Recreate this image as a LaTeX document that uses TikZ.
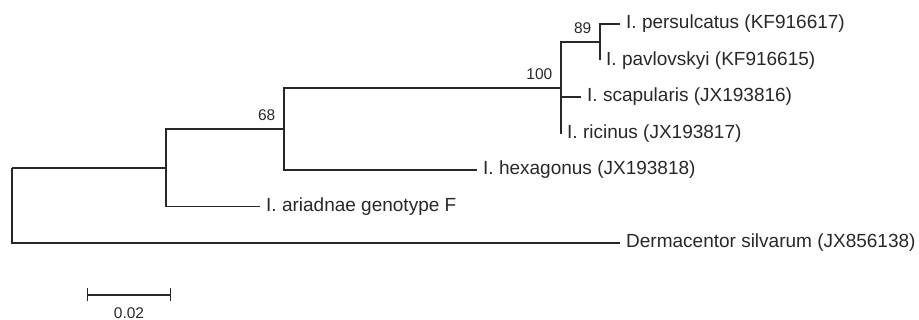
\documentclass[tikz,border=0pt]{standalone}
\usepackage{fontspec}
\setmainfont{Liberation Sans}
\usetikzlibrary{arrows.meta}
\definecolor{treegray}{RGB}{40,40,40}

\begin{document}
\begin{tikzpicture}
[x=1pt,y=-1pt,line width=1.4pt,color=treegray,%
  every node/.style={font=\fontsize{19}{22}\selectfont},%
  leaf/.style={anchor=west,inner xsep=5.5pt},%
  boot/.style={anchor=south east,inner sep=0pt,xshift=-8pt,yshift=8pt,%
    font=\fontsize{15.5}{18}\selectfont},%
  elbow/.style={to path={|- (\tikztotarget)}}]
\useasboundingbox (0,0) rectangle (919,320);
%%
\coordinate (root) at (12,168);
\coordinate (A) at (166,168);
\coordinate (B) at (284,129);
\coordinate (C) at (561,88);
\coordinate (D) at (600,42);
%%
\node[leaf] (pers) at (620,24) {I. persulcatus (KF916617)};
\node[leaf] (pavl) at (600,60.5) {I. pavlovskyi (KF916615)};
\node[leaf] (scap) at (581,97) {I. scapularis (JX193816)};
\node[leaf] (rici) at (561,134) {I. ricinus (JX193817)};
\node[leaf] (hexa) at (477,170) {I. hexagonus (JX193818)};
\node[leaf] (aria) at (260,206.5) {I. ariadnae genotype F};
\node[leaf] (dsil) at (620,243) {Dermacentor silvarum (JX856138)};
%%
\node[boot] (b89) at (D) {89};
\node[boot] (b100) at (C) {100};
\node[boot] (b68) at (B) {68};
%%
\coordinate (sbl) at (87,295);
\coordinate (sbr) at (171,295);
\draw[{Bar[width=13pt]}-{Bar[width=13pt]}] (sbl) -- (sbr);
\node[anchor=north,inner sep=0pt,font=\fontsize{15.5}{18}\selectfont] (sblab) at (129,307) {0.02};
\path
\foreach \startNode/\endNode in {root/A, root/dsil.west, A/B, A/aria.west,
  B/C, B/hexa.west, C/D, C/scap.west, C/rici.west, D/pers.west, D/pavl.west}
{
  (\startNode) edge[elbow] (\endNode)
};
\end{tikzpicture}
\end{document}
